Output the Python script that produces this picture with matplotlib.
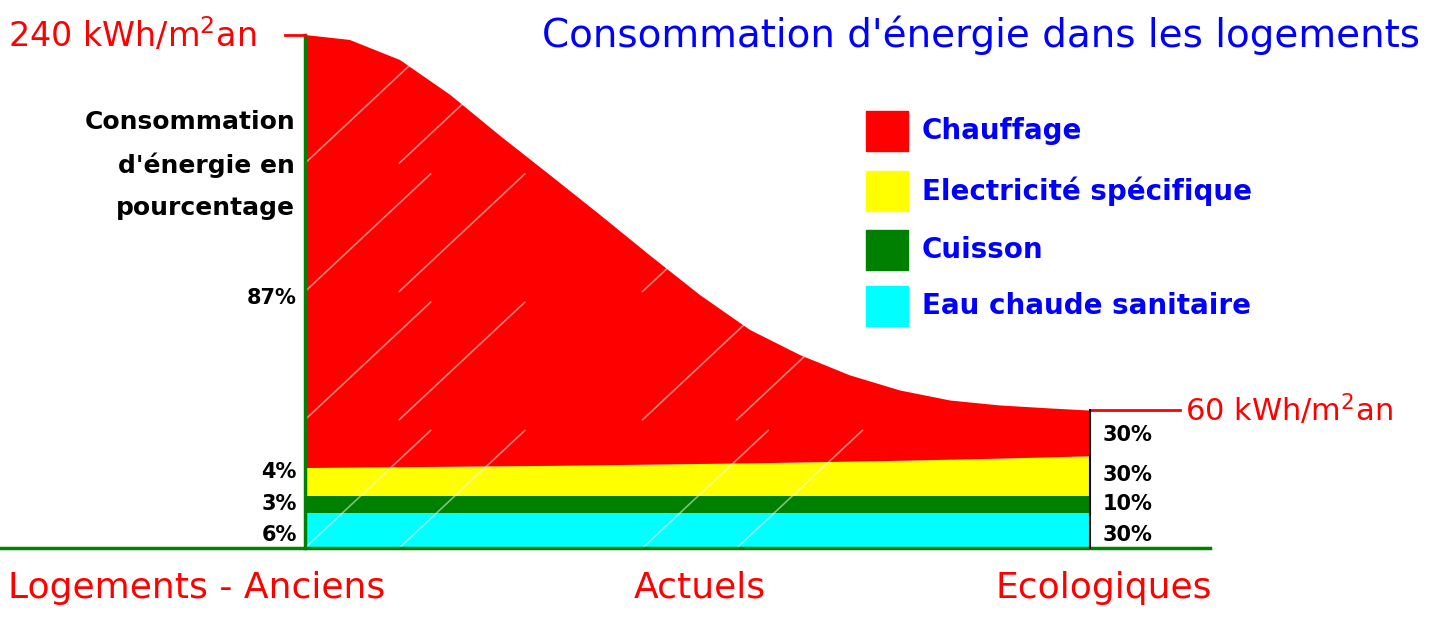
import matplotlib
matplotlib.use("Agg")
import matplotlib.pyplot as plt
import numpy as np

x = [0, .057, .121, .185, .248, .312, .376, .439, .503, .567, .631, .694, .758, .822, .885, .949, 1.0]
total = [240, 237.7, 228.3, 212, 193, 174.5, 155.8, 137, 118.4, 102, 90.2, 80.8, 73.7, 69, 66.7, 65.3, 64.3]
cyan = [16.4] * 17
green = [8] * 17
yellow = [13, 13.2, 13.4, 13.6, 13.8, 14.0, 14.3, 14.6, 14.9, 15.2, 15.6, 16.0, 16.4, 16.9, 17.4, 18.0, 18.5]
left_pct = ["87%", "4%", "3%", "6%"]
right_pct = ["30%", "30%", "10%", "30%"]
legend_labels = ["Chauffage", "Electricité spécifique", "Cuisson", "Eau chaude sanitaire"]
colors = ["#ff0000", "#ffff00", "#008000", "#00ffff"]
x_labels = ["Logements - Anciens", "Actuels", "Ecologiques"]

W, H = 1440, 619
fig = plt.figure(figsize=(W/100, H/100), dpi=100)
plt.rcParams['font.family'] = ['DejaVu Sans']
ax = fig.add_axes([305/W, (H-548)/H, 785/W, 513/H])
cy = np.array(cyan); gr = np.array(green); ye = np.array(yellow); tot = np.array(total)
red = tot - cy - gr - ye
ax.stackplot(x, cy, gr, ye, red, colors=colors[::-1], linewidth=0)
ax.set_xlim(0, 1); ax.set_ylim(0, 240)
ax.axis('off')
for x0 in [0.0, 0.12, 0.43, 0.55]:
    for y0 in [0, 60, 120, 180]:
        ax.plot([x0, x0+0.16], [y0, y0+55], color='white', alpha=0.5, lw=1.2)

def fl(xs, ys, c, lw):
    fig.add_artist(plt.Line2D([v/W for v in xs], [1-v/H for v in ys], color=c, lw=lw))
fl([305, 305], [35, 548], 'green', 2.5)
fl([0, 1210], [548, 548], 'green', 2.5)
fl([285, 305], [35, 35], 'red', 2)
fl([1090, 1180], [410, 410], 'red', 2)
fl([1090, 1090], [410, 548], 'black', 1.5)

def ft(px, py, s, **kw):
    fig.text(px/W, 1-py/H, s, **kw)
ft(8, 35, "240 kWh/m$^2$an", color='red', fontsize=24, va='center')
ft(1185, 410, "60 kWh/m$^2$an", color='red', fontsize=22, va='center')
ft(1420, 35, "Consommation d'énergie dans les logements", color='blue', fontsize=28, ha='right', va='center')
ft(295, 165, "Consommation\nd'énergie en\npourcentage", color='black', fontsize=18, ha='right', va='center',
   fontweight='bold', linespacing=1.9)
for s, py in zip(left_pct, [298, 472, 504, 535]):
    ft(297, py, s, fontsize=15, fontweight='bold', ha='right', va='center')
for s, py in zip(right_pct, [435, 475, 504, 535]):
    ft(1103, py, s, fontsize=15, fontweight='bold', ha='left', va='center')
for s, c, py in zip(legend_labels, colors, [131, 191, 250, 306]):
    fig.patches.append(plt.Rectangle((866/W, 1-(py+20)/H), 42/W, 40/H, color=c, transform=fig.transFigure))
    ft(922, py, s, color='blue', fontsize=20, fontweight='bold', va='center')
for s, px, ha in zip(x_labels, [8, 700, 1212], ['left', 'center', 'right']):
    ft(px, 588, s, color='red', fontsize=26, ha=ha, va='center')
fig.savefig("out.png", dpi=100, facecolor='white')
